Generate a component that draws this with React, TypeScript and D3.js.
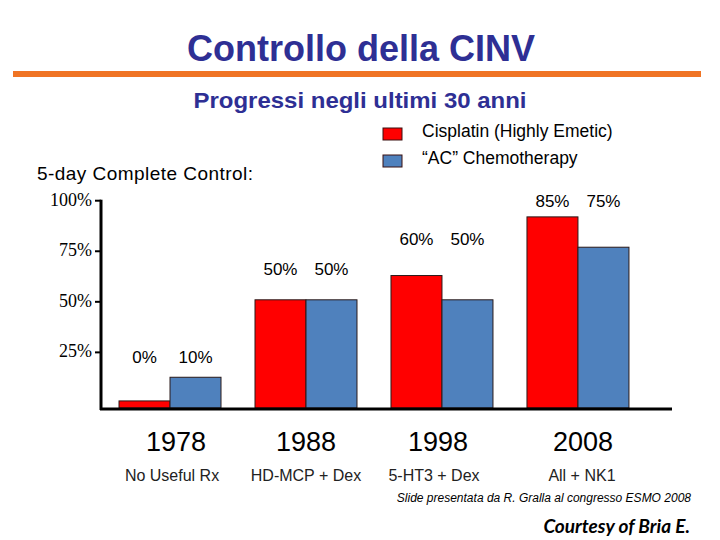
import { scaleBand, scaleLinear } from "d3";

// categories
const years = ["1978", "1988", "1998", "2008"];
const regimens = ["No Useful Rx", "HD-MCP + Dex", "5-HT3 + Dex", "All + NK1"];
const seriesKeys = ["cisplatin", "ac"];
const seriesNames = ["Cisplatin (Highly Emetic)", "\u201cAC\u201d Chemotherapy"];

// bar heights as drawn on the slide (% complete control)
const cisplatinBars = [1, 51, 63, 92];
const acBars = [12.7, 51, 51, 77];

// printed value labels and the level (%) they sit at
const cisplatinLabels = ["0%", "50%", "60%", "85%"];
const acLabels = ["10%", "50%", "50%", "75%"];
const labelLevels = [19.7, 63.3, 78, 97];

// y axis
const yTicks = [25, 50, 75, 100];
const yDomain = [-2.5, 100];

const W = 720;
const H = 540;
const colors = ["#ff0000", "#4f81bd"];
const titleBlue = "#2e2f94";

export default function App() {
  const margin = { top: 200.7, left: 101, right: 48, bottom: 132 };

  const x0 = scaleBand<string>()
    .domain(years)
    .range([margin.left, W - margin.right])
    .paddingInner(0.25)
    .paddingOuter(0.2245)
    .align(0.295);

  const x1 = scaleBand<string>()
    .domain(seriesKeys)
    .range([0, x0.bandwidth()]);

  const y = scaleLinear()
    .domain(yDomain)
    .range([H - margin.bottom, margin.top]);

  const baseY = y(yDomain[0]);
  const bars = [cisplatinBars, acBars];
  const labels = [cisplatinLabels, acLabels];
  // small nudges so the category text sits where the slide put it
  const yearNudge = [6, 0, -4, 5];
  const regimenNudge = [2, 0, -8, 4];

  return (
    <svg
      width={W}
      height={H}
      style={{ position: "absolute", left: 0, top: 0, background: "#fff" }}
      fontFamily="Arial, 'Liberation Sans', sans-serif"
    >
      {/* header */}
      <text
        x={361}
        y={61}
        textAnchor="middle"
        fontSize={36}
        fontWeight="bold"
        fill={titleBlue}
      >
        Controllo della CINV
      </text>
      <rect x={13} y={71} width={688} height={6} fill="#f07424" />
      <text
        x={360}
        y={108}
        textAnchor="middle"
        fontSize={22}
        fontWeight="bold"
        fill={titleBlue}
        textLength={333}
        lengthAdjust="spacingAndGlyphs"
      >
        Progressi negli ultimi 30 anni
      </text>

      {/* legend */}
      {seriesNames.map((name, i) => (
        <g key={name} transform={`translate(383,${128 + i * 27})`}>
          <rect width={19} height={12} fill={colors[i]} stroke="#3a1010" strokeWidth={1} />
          <text x={39} y={9} fontSize={17.5} fill="#000">
            {name}
          </text>
        </g>
      ))}

      <text x={37} y={180} fontSize={19} fill="#000" textLength={216}>
        5-day Complete Control:
      </text>

      {/* bars */}
      {years.map((yr, gi) => (
        <g key={yr} transform={`translate(${x0(yr)},0)`}>
          {seriesKeys.map((k, si) => {
            const v = bars[si][gi];
            return (
              <rect
                key={k}
                x={x1(k)}
                y={y(v)}
                width={x1.bandwidth()}
                height={baseY - y(v)}
                fill={colors[si]}
                stroke="#2a1a1a"
                strokeWidth={1}
              />
            );
          })}
          {seriesKeys.map((k, si) => (
            <text
              key={k}
              x={(x1(k) ?? 0) + x1.bandwidth() / 2}
              y={y(labelLevels[gi])}
              textAnchor="middle"
              fontSize={17}
              fill="#000"
            >
              {labels[si][gi]}
            </text>
          ))}
        </g>
      ))}

      {/* y axis */}
      <line x1={margin.left} x2={margin.left} y1={y(100) - 1} y2={baseY + 2} stroke="#000" strokeWidth={3} />
      {yTicks.map((t) => (
        <g key={t} transform={`translate(0,${y(t)})`}>
          <line x1={95} x2={margin.left} stroke="#000" strokeWidth={2} />
          <text
            x={92}
            y={5}
            textAnchor="end"
            fontSize={18}
            fontFamily="'Liberation Serif', 'Times New Roman', serif"
            fill="#000"
          >
            {t}%
          </text>
        </g>
      ))}
      {/* x axis */}
      <line x1={margin.left - 1} x2={W - margin.right} y1={baseY + 1} y2={baseY + 1} stroke="#000" strokeWidth={3} />

      {/* category labels */}
      {years.map((yr, gi) => (
        <g key={yr} transform={`translate(${(x0(yr) ?? 0) + x0.bandwidth() / 2},0)`}>
          <text x={yearNudge[gi]} y={451} textAnchor="middle" fontSize={27} fill="#000">
            {yr}
          </text>
          <text x={regimenNudge[gi]} y={481} textAnchor="middle" fontSize={16} fill="#222">
            {regimens[gi]}
          </text>
        </g>
      ))}

      <text x={691} y={502} textAnchor="end" fontSize={12} fontStyle="italic" fill="#000">
        Slide presentata da R. Gralla al congresso ESMO 2008
      </text>
      <text
        x={690}
        y={533}
        textAnchor="end"
        fontSize={19}
        fontWeight="bold"
        fontStyle="italic"
        fontFamily="Lato, 'Open Sans', sans-serif"
        fill="#000"
      >
        Courtesy of Bria E.
      </text>
    </svg>
  );
}
